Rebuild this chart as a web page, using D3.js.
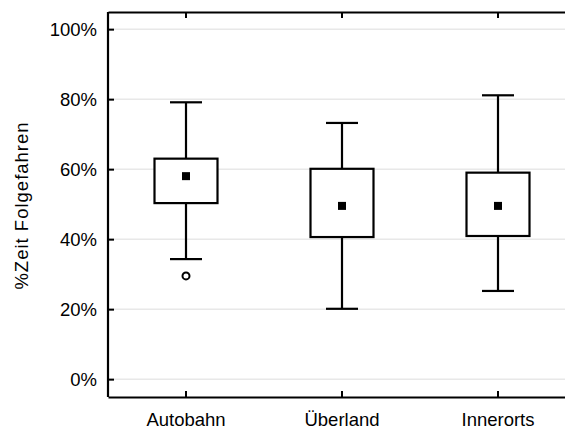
<!DOCTYPE html>
<html>
<head>
<meta charset="utf-8">
<script src="https://cdnjs.cloudflare.com/ajax/libs/d3/7.8.5/d3.min.js"></script>
<style>
  body { margin: 0; background: #fff; }
  text { font-family: "Liberation Sans", Arial, sans-serif; fill: #000; }
</style>
</head>
<body>
<svg id="chart"></svg>
<script>
// Categories and box statistics (percent)
const categories = ["Autobahn", "Überland", "Innerorts"];
const whiskerLow = [34.3, 20.1, 25.2];
const boxLow = [50.3, 40.6, 40.9];
const means = [58.0, 49.5, 49.5];
const boxHigh = [63.0, 60.1, 59.0];
const whiskerHigh = [79.1, 73.2, 81.1];
// Outliers: [category index, value]
const outliers = [[0, 29.5]];
const yTicks = [0, 20, 40, 60, 80, 100];

// SVG dimensions
let width = 565, height = 430;
let plotLeft = 108, plotTop = 12, plotRight = 576, plotBottom = 397;
let fontSize = '18.5px';

let svg = d3.select('#chart')
    .attr('width', width)
    .attr('height', height);

let xScale = d3.scaleBand()
    .domain(categories)
    .range([plotLeft, plotRight]);

let yScale = d3.scaleLinear()
    .domain([-5.1, 104.9])
    .range([plotBottom, plotTop]);

// Grid lines
svg.append('g')
    .selectAll('line')
    .data(yTicks)
    .enter()
    .append('line')
    .attr('x1', plotLeft)
    .attr('x2', plotRight)
    .attr('y1', d => yScale(d))
    .attr('y2', d => yScale(d))
    .attr('stroke', '#dcdcdc')
    .attr('stroke-width', 1);

// Axes (ticks pointing inward)
let yAxis = d3.axisLeft(yScale)
    .tickValues(yTicks)
    .tickFormat(d => d + '%')
    .tickSizeInner(-6)
    .tickSizeOuter(0)
    .tickPadding(11);
let gy = svg.append('g')
    .attr('transform', `translate(${plotLeft}, 0)`)
    .call(yAxis);

let xAxis = d3.axisBottom(xScale)
    .tickSizeInner(-6)
    .tickSizeOuter(0)
    .tickPadding(16);
let gx = svg.append('g')
    .attr('transform', `translate(0, ${plotBottom})`)
    .call(xAxis);

let xTop = d3.axisTop(xScale)
    .tickSizeInner(-6)
    .tickSizeOuter(0)
    .tickFormat('');
let gt = svg.append('g')
    .attr('transform', `translate(0, ${plotTop})`)
    .call(xTop);

[gy, gx, gt].forEach(g => {
    g.select('.domain').attr('stroke', '#000').attr('stroke-width', 2.2);
    g.selectAll('.tick line').attr('stroke', '#000').attr('stroke-width', 2);
    g.selectAll('.tick text')
        .attr('font-family', '"Liberation Sans", Arial, sans-serif')
        .attr('font-size', fontSize)
        .attr('fill', '#000');
});
gy.select('.domain').attr('d', `M0,${plotBottom}V${plotTop}`);

// Y label
svg.append('text')
    .attr('transform', `translate(28, ${(plotTop + plotBottom) / 2 + 1}) rotate(-90)`)
    .attr('text-anchor', 'middle')
    .attr('font-size', fontSize)
    .attr('letter-spacing', '1px')
    .text('%Zeit Folgefahren');

let idx = d3.range(categories.length);
let cx = i => xScale(categories[i]) + xScale.bandwidth() / 2;
let boxW = 63, capW = 32;

let marks = svg.append('g')
    .attr('stroke', '#000')
    .attr('stroke-width', 2.2)
    .attr('fill', 'none');

// Whiskers
marks.selectAll('.whisker')
    .data(idx)
    .enter()
    .append('line')
    .attr('class', 'whisker')
    .attr('x1', cx)
    .attr('x2', cx)
    .attr('y1', i => yScale(whiskerLow[i]))
    .attr('y2', i => yScale(whiskerHigh[i]));

// Caps
[whiskerLow, whiskerHigh].forEach(arr => {
    marks.selectAll(null)
        .data(idx)
        .enter()
        .append('line')
        .attr('x1', i => cx(i) - capW / 2)
        .attr('x2', i => cx(i) + capW / 2)
        .attr('y1', i => yScale(arr[i]))
        .attr('y2', i => yScale(arr[i]));
});

// Boxes
marks.selectAll('.box')
    .data(idx)
    .enter()
    .append('rect')
    .attr('class', 'box')
    .attr('x', i => cx(i) - boxW / 2)
    .attr('width', boxW)
    .attr('y', i => yScale(boxHigh[i]))
    .attr('height', i => yScale(boxLow[i]) - yScale(boxHigh[i]))
    .attr('fill', '#fff');

// Mean markers
svg.selectAll('.mean')
    .data(idx)
    .enter()
    .append('rect')
    .attr('class', 'mean')
    .attr('x', i => cx(i) - 4)
    .attr('y', i => yScale(means[i]) - 4)
    .attr('width', 8)
    .attr('height', 8)
    .attr('fill', '#000');

// Outliers
svg.selectAll('.outlier')
    .data(outliers)
    .enter()
    .append('circle')
    .attr('class', 'outlier')
    .attr('cx', d => cx(d[0]))
    .attr('cy', d => yScale(d[1]))
    .attr('r', 3.5)
    .attr('fill', '#fff')
    .attr('stroke', '#000')
    .attr('stroke-width', 2);
</script>
</body>
</html>
